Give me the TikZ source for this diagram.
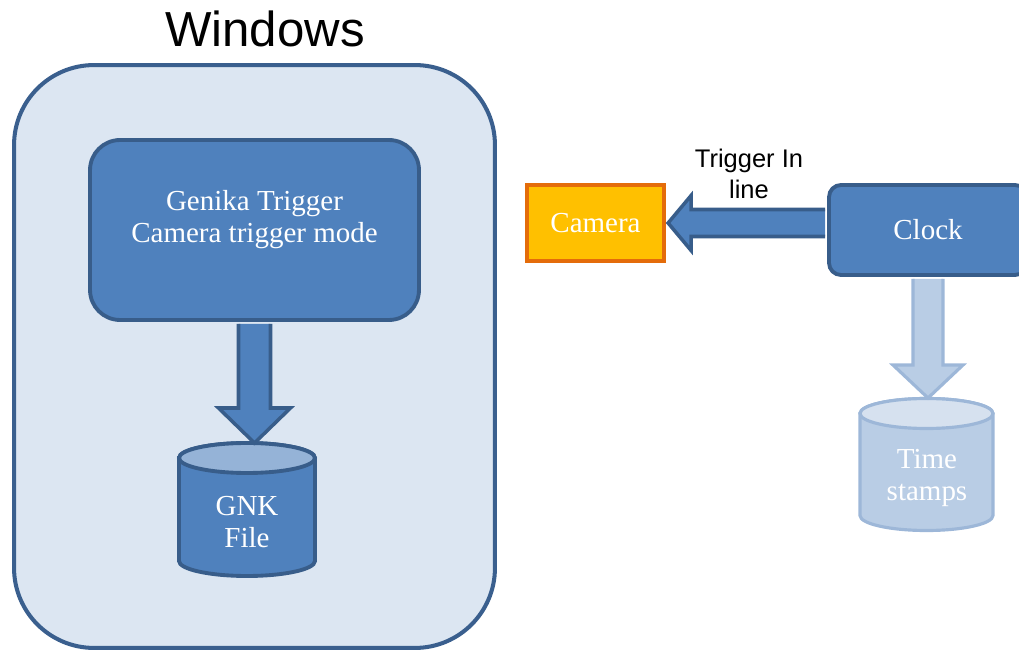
\documentclass[tikz,border=0pt]{standalone}
\usepackage{fontspec}
\setmainfont{Liberation Serif}
\newfontfamily\arialfont{Liberation Sans}
\usepackage{tikz}
\usetikzlibrary{calc}

\definecolor{winfill}{HTML}{DCE6F2}
\definecolor{winline}{HTML}{3A5F8E}
\definecolor{boxfill}{HTML}{4F81BD}
\definecolor{boxline}{HTML}{385D8A}
\definecolor{toplight}{HTML}{95B3D7}
\definecolor{camfill}{HTML}{FFC000}
\definecolor{camline}{HTML}{E46C0A}
\definecolor{fadefill}{HTML}{B9CDE5}
\definecolor{fadeline}{HTML}{9DB7D8}
\definecolor{fadetop}{HTML}{D6E1EF}

\tikzset{
  winbox/.style={draw=winline, fill=winfill, line width=2.3pt, rounded corners=1.6cm},
  bluebox/.style={draw=boxline, fill=boxfill, line width=2.2pt},
  boxtext/.style={text=white, align=center, font=\fontsize{16.5}{18.5}\selectfont},
  cambox/.style={draw=camline, fill=camfill, line width=2.3pt},
  blockarrow/.style={draw=boxline, fill=boxfill, line width=2pt},
  fadearrow/.style={draw=fadeline, fill=fadefill, line width=1.8pt},
  cylbody/.style={draw=boxline, fill=boxfill, line width=2.2pt},
  cyltop/.style={draw=boxline, fill=toplight, line width=2.2pt},
  fadebody/.style={draw=fadeline, fill=fadefill, line width=1.8pt},
  fadetop/.style={draw=fadeline, fill=fadetop, line width=1.8pt}
}

% block arrow: style, from, to, half shaft, half head, head length
\newcommand{\fatarrow}[6]{%
  \coordinate (fa-base) at ($(#3)!#6!(#2)$);
  \draw[#1] ($(#2)!#4!90:(#3)$) -- ($(fa-base)!#4!90:(#3)$) -- ($(fa-base)!#5!90:(#3)$) -- (#3)
    -- ($(fa-base)!#5!-90:(#3)$) -- ($(fa-base)!#4!-90:(#3)$) -- ($(#2)!#4!-90:(#3)$);
}

\begin{document}
\begin{tikzpicture}[x=0.02cm,y=-0.02cm]
  \clip (0,0) rectangle (1019,655);

  % windows side
  \node[font=\arialfont\fontsize{28}{33}\selectfont] (wintitle) at (265,29) {Windows};
  \node[winbox, minimum width=9.62cm, minimum height=11.66cm] (windows) at (254.5,356.5) {};
  \node[bluebox, rounded corners=0.6cm, minimum width=6.58cm, minimum height=3.6cm] (genika) at (254.5,230) {};
  \node[boxtext] (genikalbl) at (254.5,219.5) {Genika Trigger\\Camera trigger mode};

  \draw[cylbody] (179,458) -- (179,561) arc[start angle=180, end angle=360, x radius=1.36cm, y radius=0.3cm]
    -- (315,458) arc[start angle=0, end angle=180, x radius=1.36cm, y radius=0.3cm] -- cycle;
  \draw[cyltop] (247,458) ellipse[x radius=1.36cm, y radius=0.3cm];
  \node[boxtext] (gnk) at (247,522) {GNK\\File};

  \coordinate (genikaout) at ([yshift=-1.1pt]genika.south);
  \coordinate (gnktop) at (254.5,443);
  \fatarrow{blockarrow}{genikaout}{gnktop}{0.32cm}{0.72cm}{0.7cm}

  % camera and clock
  \node[cambox, minimum width=2.74cm, minimum height=1.52cm, boxtext] (camera) at (595.5,223) {\raisebox{-1.2pt}{Camera}};
  \node[bluebox, rounded corners=0.24cm, minimum width=3.96cm, minimum height=1.8cm, boxtext] (clock) at (928,230) {\raisebox{-1.2pt}{Clock}};
  \node[font=\arialfont\fontsize{14.5}{17.6}\selectfont, align=center] (trigin) at (749,173.5) {Trigger In\\line};

  \coordinate (clockout) at ([xshift=-1.1pt]camera.east -| clock.west);
  \coordinate (camin) at ([xshift=1.2pt]camera.east);
  \fatarrow{blockarrow}{clockout}{camin}{0.27cm}{0.55cm}{0.46cm}

  % time stamps
  \draw[fadebody] (860,413.5) -- (860,515.5) arc[start angle=180, end angle=360, x radius=1.33cm, y radius=0.3cm]
    -- (993,413.5) arc[start angle=0, end angle=180, x radius=1.33cm, y radius=0.3cm] -- cycle;
  \draw[fadetop] (926.5,413.5) ellipse[x radius=1.33cm, y radius=0.3cm];
  \node[boxtext] (stamps) at (927,478) {Time\\stamps};

  \coordinate (clockdown) at ([yshift=-1.1pt]clock.south);
  \coordinate (stampstop) at (928,398);
  \fatarrow{fadearrow}{clockdown}{stampstop}{0.3cm}{0.7cm}{0.66cm}
\end{tikzpicture}
\end{document}
